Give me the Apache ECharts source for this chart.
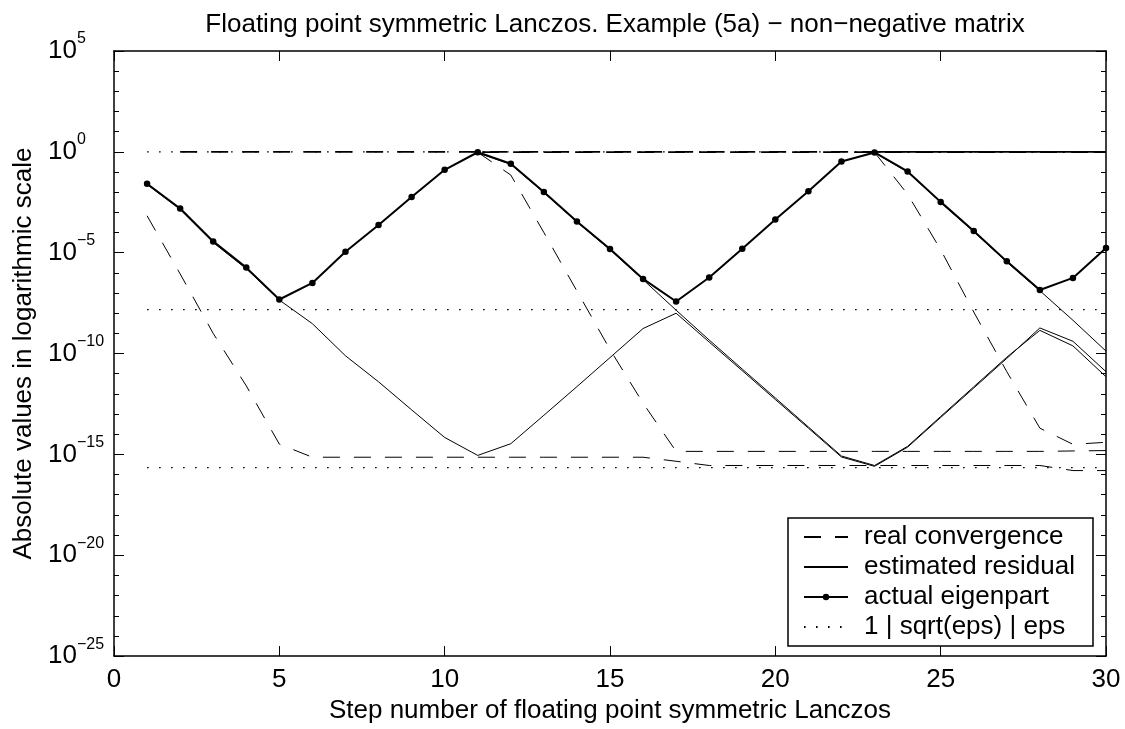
<!DOCTYPE html>
<html>
<head>
<meta charset="utf-8">
<script src="https://cdn.jsdelivr.net/npm/echarts@6/dist/echarts.min.js"></script>
<style>
html,body{margin:0;padding:0;background:#fff;}
#chart{width:1125px;height:729px;}
</style>
</head>
<body>
<div id="chart"></div>
<script>
// ---- data ----
const steps = [1,2,3,4,5,6,7,8,9,10,11,12,13,14,15,16,17,18,19,20,21,22,23,24,25,26,27,28,29,30];
const xTicks = [0,5,10,15,20,25,30];
const yTickExponents = [5,0,-5,-10,-15,-20,-25];

// actual eigenpart (solid with dots)
const eigenpart = [2.63e-2,1.55e-3,3.63e-5,1.82e-6,4.79e-8,3.16e-7,1.12e-5,2.34e-4,5.75e-3,1.29e-1,
  0.955,0.257,1.02e-2,3.55e-4,1.51e-5,5.01e-7,3.80e-8,5.89e-7,1.58e-5,4.47e-4,
  1.10e-2,0.331,0.933,0.107,3.31e-3,1.20e-4,3.72e-6,1.41e-7,5.62e-7,1.70e-5];

// estimated residuals (thin solid)
const residual1 = [2.4e-2,1.4e-3,3.2e-5,1.6e-6,4.5e-8,3.02e-9,7.76e-11,3.98e-12,1.62e-13,6.92e-15,
  8.91e-16,3.39e-15,8.71e-14,2.29e-12,6.31e-11,1.74e-9,1.0e-8,3.72e-10,1.41e-11,5.25e-13,
  2.0e-14,7.41e-16,2.57e-16,2.29e-15,6.76e-14,1.95e-12,5.75e-11,1.86e-9,4.07e-10,1.26e-11];
const residual2 = [null,null,null,null,null,null,null,null,null,null,
  0.9,0.24,9.5e-3,3.3e-4,1.4e-5,4.6e-7,1.41e-8,4.68e-10,1.70e-11,6.31e-13,
  2.29e-14,8.32e-16,2.82e-16,2.51e-15,7.59e-14,2.24e-12,6.61e-11,1.41e-9,2.40e-10,7.08e-12];
const residual3 = [null,null,null,null,null,null,null,null,null,null,
  null,null,null,null,null,null,null,null,null,null,
  null,null,0.92,0.1,3.1e-3,1.1e-4,3.4e-6,1.3e-7,4.47e-9,1.32e-10];

// real convergence (dashed)
const realConv1 = [6.76e-4,8.91e-7,1.0e-9,2.51e-12,3.24e-15,7.24e-16,7.24e-16,7.24e-16,7.24e-16,7.24e-16,
  7.24e-16,7.24e-16,7.24e-16,7.24e-16,7.24e-16,7.24e-16,4.57e-16,2.82e-16,2.82e-16,2.82e-16,
  2.82e-16,2.82e-16,2.82e-16,2.82e-16,2.82e-16,2.82e-16,2.82e-16,2.82e-16,1.58e-16,1.58e-16];
const realConv2 = [null,null,null,null,null,null,null,null,null,null,
  0.95,7.08e-2,1.0e-4,1.26e-7,1.58e-10,3.47e-13,1.41e-15,1.41e-15,1.41e-15,1.41e-15,
  1.41e-15,1.41e-15,1.41e-15,1.41e-15,1.41e-15,1.41e-15,1.41e-15,1.41e-15,1.48e-15,1.55e-15];
const realConv3 = [null,null,null,null,null,null,null,null,null,null,
  null,null,null,null,null,null,null,null,null,null,
  null,null,0.95,7.94e-3,1.41e-5,1.15e-8,1.26e-11,2.0e-14,3.16e-15,3.98e-15];
const realConvTopA = [null,1,1,1,1,1,1,1,1,1,1,1,1,1,1,1,1,1,1,1,1,1,1,1,1,1,1,1,1,1];
const realConvTopB = [null,null,null,null,null,null,null,null,null,null,
  0.97,0.97,0.97,0.97,0.97,0.97,0.97,0.97,0.97,0.97,0.97,0.97,0.97,0.98,0.98,0.98,0.98,0.98,0.98,0.98];
const realConvTopC = [null,null,null,null,null,null,null,null,null,null,
  null,null,null,null,null,null,null,null,null,null,
  null,null,1,1,1,1,1,1,1,1];

// reference levels: 1, sqrt(eps), eps
const refLevels = [1, 1.49e-8, 2.22e-16];

// ---- build chart ----
const FONT = '"Liberation Sans", Arial, Helvetica, sans-serif';
const FS = 26;
function pts(arr){
  const out = [];
  arr.forEach((v,i)=>{ if(v!=null) out.push([steps[i], Math.log10(v)]); });
  return out;
}
const NAME_D = 'real convergence', NAME_R = 'estimated residual', NAME_E = 'actual eigenpart', NAME_REF = '1 | sqrt(eps) | eps';
const dashStyle = {color:'#000', width:1, type:[17,14]};
const hidden = {color:'rgba(0,0,0,0)'};
const series = [];
function dashed(arr, extra){
  series.push({name:NAME_D, type:'line', data:pts(arr), symbol:'none', showSymbol:false, silent:true,
    itemStyle:hidden, lineStyle:Object.assign({}, dashStyle, extra||{}), z:2});
}
function solid(arr){
  series.push({name:NAME_R, type:'line', data:pts(arr), symbol:'none', showSymbol:false, silent:true,
    itemStyle:hidden, lineStyle:{color:'#000', width:1}, z:3});
}
refLevels.forEach(v=>{
  series.push({name:NAME_REF, type:'line', data:[[steps[0],Math.log10(v)],[steps[steps.length-1],Math.log10(v)]],
    symbol:'none', showSymbol:false, silent:true, itemStyle:hidden,
    lineStyle:{color:'#000', width:1.2, type:[1.6,10.4]}, z:1});
});
dashed(realConv1); dashed(realConv2); dashed(realConv3);
dashed(realConvTopA, {width:1.8});
dashed(realConvTopB, {width:1.8, dashOffset:26.6});
dashed(realConvTopC, {width:1.8, dashOffset:29.5});
solid(residual1); solid(residual2); solid(residual3);
series.push({name:NAME_E, type:'line', data:pts(eigenpart), symbol:'circle', symbolSize:6.5, showSymbol:true, silent:true,
  itemStyle:{color:'#000'}, lineStyle:{color:'#000', width:2}, z:4});

function expText(v){
  const e = Math.round(v);
  return e<0 ? '\u2212' + (-e) : String(e);
}
const axisLineStyle = {color:'#000', width:1.5};
const yMin = yTickExponents[yTickExponents.length-1], yMax = yTickExponents[0];
const chart = echarts.init(document.getElementById('chart'), null, {renderer:'canvas'});
chart.setOption({
  backgroundColor:'#fff',
  animation:false,
  textStyle:{fontFamily:FONT, color:'#000'},
  title:{
    text:'Floating point symmetric Lanczos. Example (5a) \u2212 non\u2212negative matrix',
    left:610, top:7, textAlign:'center',
    textStyle:{fontFamily:FONT, fontSize:FS, fontWeight:'normal', color:'#000'}
  },
  grid:{left:114, right:19, top:51, bottom:70, containLabel:false},
  legend:{
    orient:'vertical', left:788, top:518,
    data:[
      {name:NAME_D, itemStyle:{opacity:0}},
      {name:NAME_R, itemStyle:{opacity:0}},
      {name:NAME_E},
      {name:NAME_REF, itemStyle:{opacity:0}}
    ],
    itemWidth:44, itemHeight:8, itemGap:4,
    padding:[6,18,6,15],
    backgroundColor:'#fff', borderColor:'#000', borderWidth:1.5, borderRadius:0,
    textStyle:{fontFamily:FONT, fontSize:FS, lineHeight:26, color:'#000', padding:[0,0,0,11]},
    selectedMode:false
  },
  xAxis:[{
    type:'value', min:xTicks[0], max:xTicks[xTicks.length-1], interval:5, position:'bottom',
    name:'Step number of floating point symmetric Lanczos', nameLocation:'middle', nameGap:37,
    nameTextStyle:{fontFamily:FONT, fontSize:FS, color:'#000'},
    axisLine:{show:true, onZero:false, lineStyle:axisLineStyle},
    axisTick:{show:true, inside:true, length:10, lineStyle:{color:'#000', width:1}},
    axisLabel:{fontFamily:FONT, fontSize:FS, color:'#000', margin:11},
    splitLine:{show:false}
  },{
    type:'value', min:xTicks[0], max:xTicks[xTicks.length-1], interval:5, position:'top',
    axisLine:{show:true, onZero:false, lineStyle:axisLineStyle},
    axisTick:{show:true, inside:true, length:10, lineStyle:{color:'#000', width:1}},
    axisLabel:{show:false}, splitLine:{show:false}
  }],
  yAxis:[{
    type:'value', min:yMin, max:yMax, interval:5, position:'left',
    name:'Absolute values in logarithmic scale', nameLocation:'middle', nameGap:77, nameRotate:90,
    nameTextStyle:{fontFamily:FONT, fontSize:FS, color:'#000'},
    axisLine:{show:true, onZero:false, lineStyle:axisLineStyle},
    axisTick:{show:true, inside:true, length:10, lineStyle:{color:'#000', width:1}},
    minorTick:{show:true, splitNumber:5, length:5, lineStyle:{color:'#000', width:1}},
    axisLabel:{align:'left', verticalAlign:'middle', margin:66, formatter:()=> '10',
      fontFamily:FONT, fontSize:FS, color:'#000', padding:[3,0,0,0]},
    splitLine:{show:false}, minorSplitLine:{show:false}
  },{
    type:'value', min:yMin, max:yMax, interval:5, position:'right',
    axisLine:{show:true, onZero:false, lineStyle:axisLineStyle},
    axisTick:{show:true, inside:true, length:10, lineStyle:{color:'#000', width:1}},
    minorTick:{show:true, splitNumber:5, length:5, lineStyle:{color:'#000', width:1}},
    axisLabel:{show:false}, splitLine:{show:false}, minorSplitLine:{show:false}
  },{
    // exponent part of the 10^n tick labels
    type:'value', min:yMin, max:yMax, interval:5, position:'left',
    axisLine:{show:false}, axisTick:{show:false}, minorTick:{show:false},
    axisLabel:{align:'left', verticalAlign:'bottom', margin:37, formatter:expText,
      fontFamily:FONT, fontSize:16, lineHeight:16, color:'#000', padding:[0,0,4,0]},
    splitLine:{show:false}, minorSplitLine:{show:false}
  }],
  series: series
});
</script>
</body>
</html>
